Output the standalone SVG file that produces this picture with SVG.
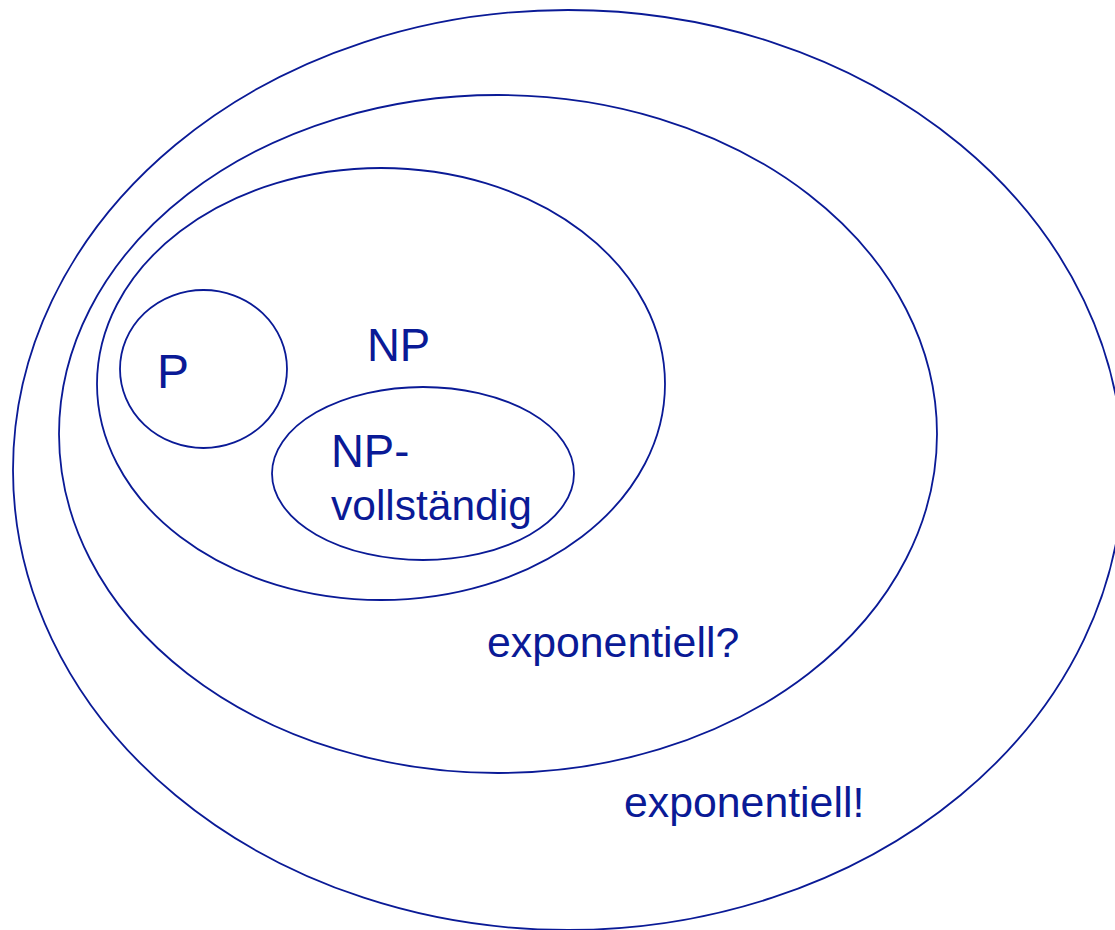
<svg xmlns="http://www.w3.org/2000/svg" width="1115" height="930" viewBox="0 0 1115 930">
<style>
.s{fill:none;stroke:#0a1a96;stroke-width:1.8}
.t{fill:#0a1a96;font-family:"Liberation Sans",Arial,sans-serif}
</style>
<rect width="1115" height="930" fill="#fff"/>
<g id="outer"><ellipse class="s" cx="568" cy="470" rx="555" ry="460"/><text class="t" x="624" y="817" font-size="42.8">exponentiell!</text></g>
<g id="expq"><ellipse class="s" cx="498" cy="434" rx="439" ry="339"/><text class="t" x="487" y="657" font-size="42.8">exponentiell?</text></g>
<g id="np"><ellipse class="s" cx="381" cy="384" rx="284" ry="216"/><text class="t" x="367" y="361" font-size="45.5">NP</text></g>
<g id="p"><ellipse class="s" cx="203.5" cy="369" rx="83.5" ry="79"/><text class="t" x="157" y="388" font-size="48">P</text></g>
<g id="npc"><ellipse class="s" cx="423" cy="473.5" rx="151" ry="86.5"/><text class="t" x="331" y="467" font-size="45.5">NP-</text><text class="t" x="331" y="520" font-size="42.5">vollständig</text></g>
<g id="connectors"/>
</svg>
